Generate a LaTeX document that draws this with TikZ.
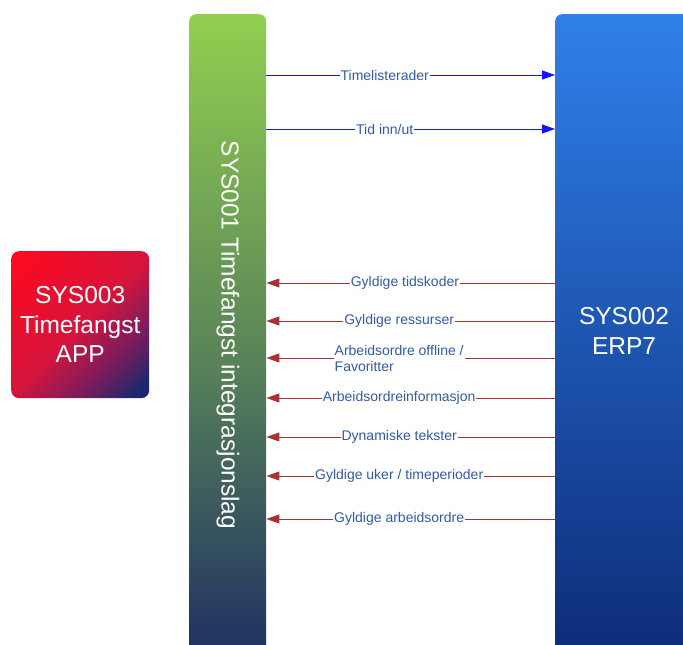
\documentclass[tikz,border=0pt]{standalone}
\usepackage{fontspec}
\setmainfont{Liberation Sans}
\usetikzlibrary{arrows.meta}
\definecolor{barGreen}{RGB}{146,208,80}
\definecolor{barMid}{RGB}{88,130,88}
\definecolor{barNavy}{RGB}{18,32,100}
\definecolor{erpTop}{RGB}{47,128,234}
\definecolor{erpBot}{RGB}{10,36,110}
\definecolor{appRed}{RGB}{252,10,32}
\definecolor{appMid}{RGB}{215,20,60}
\definecolor{appPurp}{RGB}{130,28,90}
\definecolor{appNavy}{RGB}{28,40,110}
\definecolor{labBlue}{RGB}{50,90,170}
\definecolor{outBlue}{RGB}{20,20,255}
\definecolor{inRed}{RGB}{170,50,55}
\pgfdeclareverticalshading{appshade}{100bp}{color(0bp)=(appNavy); color(19bp)=(appNavy); color(34bp)=(appPurp); color(50bp)=(appMid); color(82bp)=(appRed); color(100bp)=(appRed)}
\begin{document}
\begin{tikzpicture}[x=1pt,y=-1pt,
  bigtxt/.style={text=white,font=\fontsize{24.5}{29.5}\selectfont,align=center},
  sysbox/.style={rounded corners=7pt,inner sep=0pt,anchor=north west},
  lab/.style={fill=white,inner sep=1pt,text=labBlue,font=\fontsize{14}{16}\selectfont},
  outarrow/.style={draw=outBlue,line width=1pt,-{Triangle[length=13pt,width=9pt]}},
  inarrow/.style={draw=inRed,line width=1pt,-{Triangle[length=13pt,width=9pt]}}]
\clip (0,0) rectangle (683,645);
\fill[white] (0,0) rectangle (683,645);
% bars
\node[sysbox,minimum width=77pt,minimum height=700pt,top color=barGreen,bottom color=barNavy,middle color=barMid] (integ) at (189,14) {};
\node[bigtxt,rotate=-90] (integtxt) at (228,335) {SYS001 Timefangst integrasjonslag};
\node[sysbox,minimum width=170pt,minimum height=700pt,top color=erpTop,bottom color=erpBot] (erp) at (555,14) {};
\node[bigtxt] (erptxt) at (624,331) {SYS002\\ERP7};
\node[sysbox,rounded corners=8pt,minimum width=138pt,minimum height=147pt,shading=appshade,shading angle=45] (app) at (11,251) {};
\node[bigtxt] (apptxt) at (app.center) {SYS003\\Timefangst\\APP};
% outgoing arrows
\draw[outarrow] (integ.east |- 0,75) -- node[lab,pos=.41]{Timelisterader} (erp.west |- 0,75);
\draw[outarrow] (integ.east |- 0,129) -- node[lab,pos=.41]{Tid inn/ut} (erp.west |- 0,129);
% incoming arrows
\draw[inarrow] (erp.west |- 0,283) -- node[lab,pos=.52]{Gyldige tidskoder} (integ.east |- 0,283);
\draw[inarrow] (erp.west |- 0,321) -- node[lab,pos=.54]{Gyldige ressurser} (integ.east |- 0,321);
\draw[inarrow] (erp.west |- 0,358) -- node[lab,pos=.54,align=left]{Arbeidsordre offline /\\Favoritter} (integ.east |- 0,358);
\draw[inarrow] (erp.west |- 0,398) -- node[lab,pos=.54]{Arbeidsordreinformasjon} (integ.east |- 0,398);
\draw[inarrow] (erp.west |- 0,437) -- node[lab,pos=.54]{Dynamiske tekster} (integ.east |- 0,437);
\draw[inarrow] (erp.west |- 0,476) -- node[lab,pos=.54]{Gyldige uker / timeperioder} (integ.east |- 0,476);
\draw[inarrow] (erp.west |- 0,519) -- node[lab,pos=.54]{Gyldige arbeidsordre} (integ.east |- 0,519);
\end{tikzpicture}
\end{document}
